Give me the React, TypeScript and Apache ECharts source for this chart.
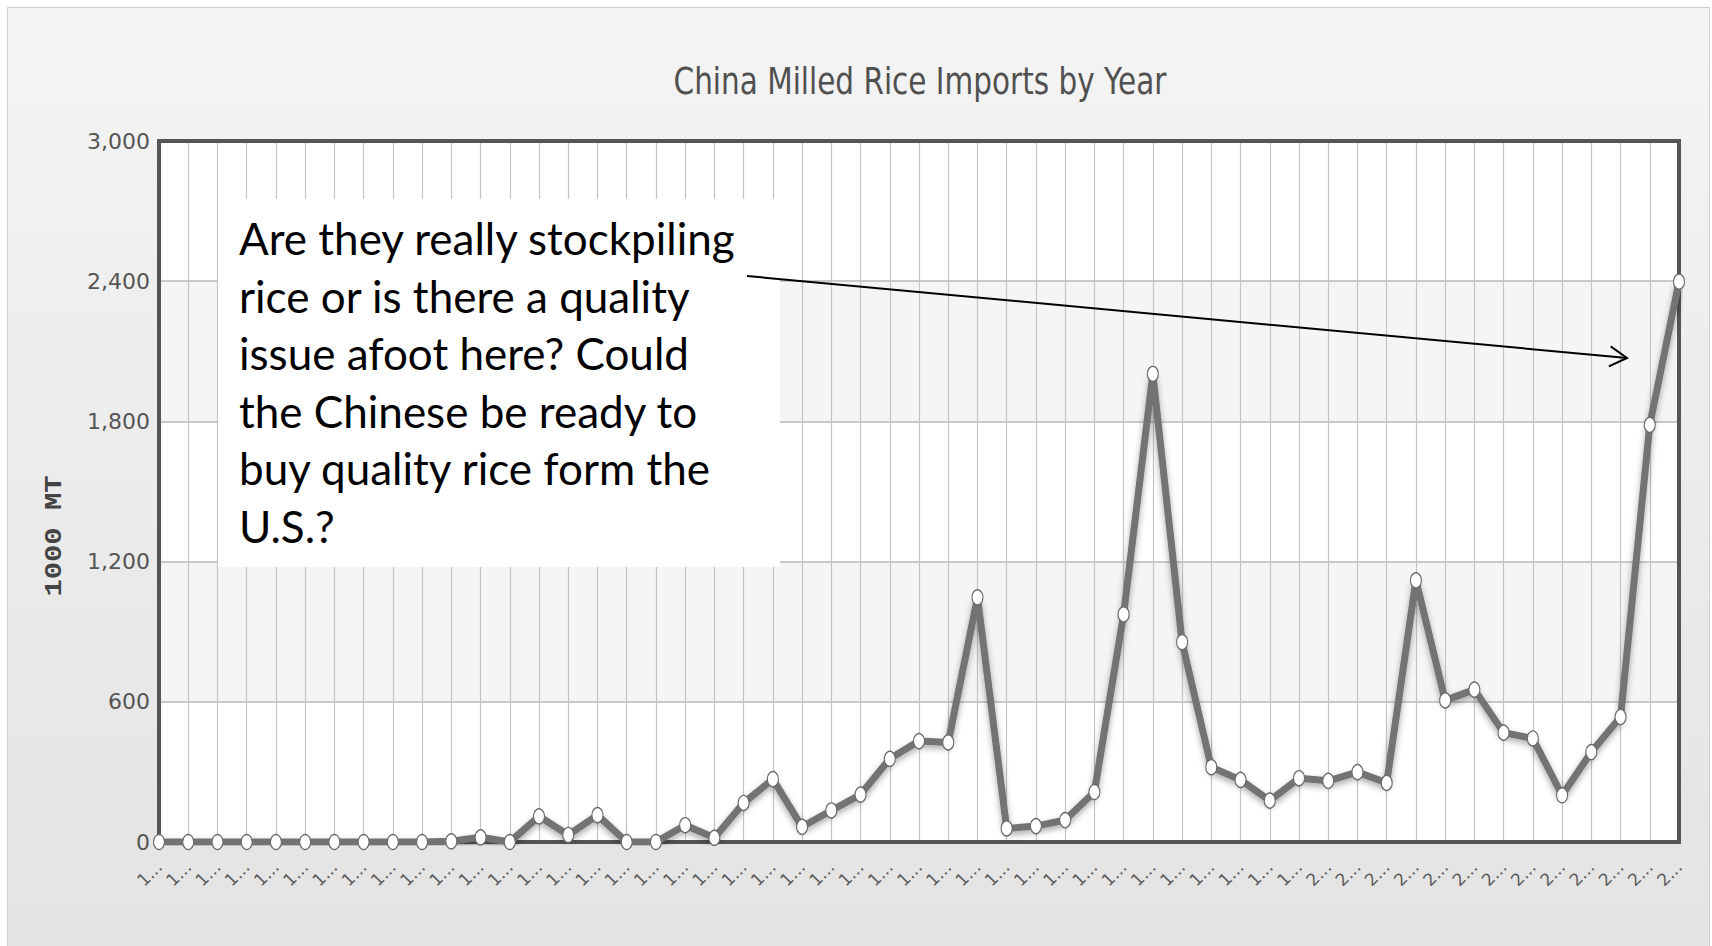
import React, { useEffect, useRef } from "react";
import * as echarts from "echarts";

// Marketing years shown along the x axis (labels are truncated when drawn)
const marketYears = [
  "1960/61", "1961/62", "1962/63", "1963/64", "1964/65", "1965/66", "1966/67", "1967/68",
  "1968/69", "1969/70", "1970/71", "1971/72", "1972/73", "1973/74", "1974/75", "1975/76",
  "1976/77", "1977/78", "1978/79", "1979/80", "1980/81", "1981/82", "1982/83", "1983/84",
  "1984/85", "1985/86", "1986/87", "1987/88", "1988/89", "1989/90", "1990/91", "1991/92",
  "1992/93", "1993/94", "1994/95", "1995/96", "1996/97", "1997/98", "1998/99", "1999/00",
  "2000/01", "2001/02", "2002/03", "2003/04", "2004/05", "2005/06", "2006/07", "2007/08",
  "2008/09", "2009/10", "2010/11", "2011/12", "2012/13",
];

// Milled rice imports, 1000 MT
const imports = [
  0, 0, 0, 0, 0, 0, 0, 0, 0, 0,
  3, 20, 0, 110, 30, 115, 0, 0, 72, 18,
  167, 269, 65, 135, 203, 356, 432, 426, 1047, 58,
  68, 94, 214, 974, 2003, 855, 320, 266, 177, 273,
  262, 299, 253, 1120, 606, 652, 468, 443, 200, 385,
  535, 1785, 2398,
];

// Value axis ticks
const yMin = 0;
const yMax = 3000;
const yStep = 600;

const chartTitle = "China Milled Rice Imports by Year";
const yAxisName = "1000 MT";
const noteLines = [
  "Are they really stockpiling",
  "rice or is there a quality",
  "issue afoot here? Could",
  "the Chinese be ready to",
  "buy quality rice form the",
  "U.S.?",
];

export default function App() {
  const ref = useRef<HTMLDivElement>(null);

  useEffect(() => {
    if (!ref.current) return;
    const chart = echarts.init(ref.current, undefined, { renderer: "svg" });

    const panelFill = new echarts.graphic.LinearGradient(0, 0, 0, 1, [
      { offset: 0, color: "#f4f4f4" },
      { offset: 1, color: "#e3e3e3" },
    ]);

    // open arrow head pointing at the latest surge
    const tail = [747, 276];
    const tip = [1627, 358];
    const dx = tip[0] - tail[0];
    const dy = tip[1] - tail[1];
    const len = Math.hypot(dx, dy);
    const ux = -dx / len;
    const uy = -dy / len;
    const arm = 20;
    const a = Math.PI / 6;
    const head1 = [
      tip[0] + arm * (ux * Math.cos(a) - uy * Math.sin(a)),
      tip[1] + arm * (ux * Math.sin(a) + uy * Math.cos(a)),
    ];
    const head2 = [
      tip[0] + arm * (ux * Math.cos(-a) - uy * Math.sin(-a)),
      tip[1] + arm * (ux * Math.sin(-a) + uy * Math.cos(-a)),
    ];

    const noteFont = 44;
    const noteLeading = 57.5;
    const noteFirstBottom = 260;

    chart.setOption({
      animation: false,
      backgroundColor: "#ffffff",
      grid: {
        left: 159,
        right: 33,
        top: 141,
        bottom: 104,
        show: true,
        backgroundColor: "transparent",
        borderColor: "#555555",
        borderWidth: 4,
        z: 1,
      },
      xAxis: {
        type: "category",
        data: marketYears,
        boundaryGap: false,
        axisLine: { show: false },
        axisTick: { show: false },
        splitLine: { show: true, lineStyle: { color: "#c4c4c4", width: 1.2 } },
        axisLabel: {
          interval: 0,
          rotate: 45,
          margin: 22,
          color: "#5a5a5a",
          fontFamily: "DejaVu Sans",
          fontSize: 17,
          formatter: (v: string) => v.charAt(0) + "...",
        },
      },
      yAxis: {
        type: "value",
        min: yMin,
        max: yMax,
        interval: yStep,
        axisLine: { show: false },
        axisTick: { show: false },
        axisLabel: {
          color: "#555555",
          fontFamily: "DejaVu Sans",
          fontSize: 22,
          margin: 9,
          formatter: (v: number) => v.toLocaleString("en-US"),
        },
        splitLine: { lineStyle: { color: "#c9c9c9", width: 2 } },
        splitArea: { show: true, areaStyle: { color: ["#ffffff", "#f5f5f5"] } },
      },
      series: [
        {
          type: "line",
          data: imports,
          symbol: "circle",
          symbolSize: [11, 15],
          showAllSymbol: true,
          lineStyle: {
            color: "#737373",
            width: 7,
            shadowColor: "rgba(0,0,0,0.35)",
            shadowBlur: 6,
            shadowOffsetY: 3,
          },
          itemStyle: { color: "#ffffff", borderColor: "#6a6a6a", borderWidth: 1.2 },
          z: 10,
        },
      ],
      graphic: [
        {
          type: "rect",
          z: -10,
          silent: true,
          shape: { x: 7.5, y: 7.5, width: 1702, height: 960 },
          style: { fill: panelFill, stroke: "#cfcfcf", lineWidth: 1 },
        },
        {
          type: "text",
          x: 920,
          y: 81,
          scaleY: 1.25,
          z: 20,
          style: {
            text: chartTitle,
            fill: "#505050",
            font: '29.5px "DejaVu Sans"',
            align: "center",
            verticalAlign: "middle",
            textAlign: "center",
            textVerticalAlign: "middle",
          },
        },
        {
          type: "text",
          x: 55,
          y: 536,
          rotation: Math.PI / 2,
          scaleX: 1.2,
          z: 20,
          style: {
            text: yAxisName,
            fill: "#444444",
            font: 'bold 24px "Liberation Mono"',
            align: "center",
            verticalAlign: "middle",
            textAlign: "center",
            textVerticalAlign: "middle",
          },
        },
        {
          type: "rect",
          z: 50,
          silent: true,
          shape: { x: 218, y: 199, width: 562, height: 368 },
          style: { fill: "#ffffff" },
        },
        ...noteLines.map((line, i) => ({
          type: "text",
          x: 239,
          y: noteFirstBottom + i * noteLeading,
          z: 60,
          style: {
            text: line,
            fill: "#000000",
            font: `${noteFont}px Lato`,
            align: "left",
            verticalAlign: "bottom",
            textAlign: "left",
            textVerticalAlign: "bottom",
          },
        })),
        {
          type: "line",
          z: 60,
          shape: { x1: tail[0], y1: tail[1], x2: tip[0], y2: tip[1] },
          style: { stroke: "#000000", lineWidth: 2 },
        },
        {
          type: "polyline",
          z: 60,
          shape: { points: [head1, tip, head2] },
          style: { stroke: "#000000", lineWidth: 2, fill: null },
        },
      ],
    });

    return () => chart.dispose();
  }, []);

  return (
    <div
      ref={ref}
      style={{ position: "absolute", left: 0, top: 0, width: 1712, height: 946 }}
    />
  );
}
